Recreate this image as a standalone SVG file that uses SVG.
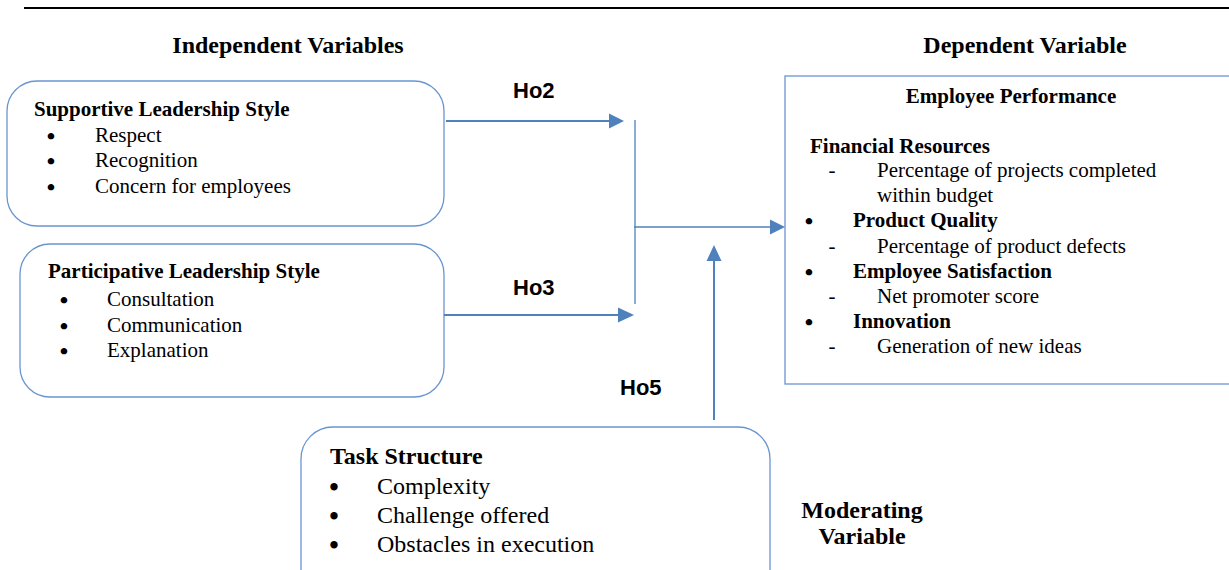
<svg xmlns="http://www.w3.org/2000/svg" width="1229" height="570" viewBox="0 0 1229 570">
<style>
.t{font-family:"Liberation Serif","Times New Roman",serif;fill:#000}
.b{font-weight:bold}
.s21{font-size:21px}
.s24{font-size:24px}
.bu{font-family:"Liberation Serif","Times New Roman",serif;font-size:24px;font-weight:bold;text-anchor:middle;fill:#000}
.bu2{font-family:"Liberation Serif","Times New Roman",serif;font-size:27px;font-weight:bold;text-anchor:middle;fill:#000}
.h{font-family:"Liberation Sans",Arial,sans-serif;font-weight:bold;font-size:22px;fill:#000}
.box{fill:#fff;stroke:#6a95cf;stroke-width:1.3}
.con{stroke:#4f81bd;stroke-width:2;fill:none}
.ah{fill:#4f81bd}
.m{text-anchor:middle}
</style>
<rect width="1229" height="570" fill="#fff"/>
<line x1="24" y1="8" x2="1229" y2="8" stroke="#000" stroke-width="2"/>
<text class="t b s24 m" x="288" y="53">Independent Variables</text>
<text class="t b s24 m" x="1025" y="53">Dependent Variable</text>

<g id="supportive">
<rect class="box" x="7" y="81" width="437" height="145" rx="30"/>
<text class="t b s21" x="34" y="116">Supportive Leadership Style</text>
<text class="bu" x="51" y="144">•</text><text class="t s21" x="95" y="142">Respect</text>
<text class="bu" x="51" y="169">•</text><text class="t s21" x="95" y="167">Recognition</text>
<text class="bu" x="51" y="195">•</text><text class="t s21" x="95" y="193">Concern for employees</text>
</g>

<g id="participative">
<rect class="box" x="20" y="244" width="424" height="153" rx="30"/>
<text class="t b s21" x="48" y="278">Participative Leadership Style</text>
<text class="bu" x="64" y="308">•</text><text class="t s21" x="107" y="306">Consultation</text>
<text class="bu" x="64" y="334">•</text><text class="t s21" x="107" y="332">Communication</text>
<text class="bu" x="64" y="359">•</text><text class="t s21" x="107" y="357">Explanation</text>
</g>

<g id="performance">
<rect x="785" y="76" width="460" height="308" fill="#fff" stroke="#6a95cf" stroke-width="1.3"/>
<text class="t b s21 m" x="1011" y="103">Employee Performance</text>
<text class="t b s21" x="810" y="153">Financial Resources</text>
<text class="t s21 m" x="832" y="177">-</text><text class="t s21" x="877" y="177">Percentage of projects completed</text>
<text class="t s21" x="877" y="202">within budget</text>
<text class="bu" x="809" y="229">•</text><text class="t b s21" x="853" y="227">Product Quality</text>
<text class="t s21 m" x="832" y="253">-</text><text class="t s21" x="877" y="253">Percentage of product defects</text>
<text class="bu" x="809" y="280">•</text><text class="t b s21" x="853" y="278">Employee Satisfaction</text>
<text class="t s21 m" x="832" y="303">-</text><text class="t s21" x="877" y="303">Net promoter score</text>
<text class="bu" x="809" y="330">•</text><text class="t b s21" x="853" y="328">Innovation</text>
<text class="t s21 m" x="832" y="353">-</text><text class="t s21" x="877" y="353">Generation of new ideas</text>
</g>

<g id="task">
<rect class="box" x="301" y="427" width="469" height="175" rx="32"/>
<text class="t b s24" x="330" y="464">Task Structure</text>
<text class="bu2" x="334" y="496">•</text><text class="t s24" x="377" y="494">Complexity</text>
<text class="bu2" x="334" y="525">•</text><text class="t s24" x="377" y="523">Challenge offered</text>
<text class="bu2" x="334" y="554">•</text><text class="t s24" x="377" y="552">Obstacles in execution</text>
</g>

<g id="moderating-label">
<text class="t b s24 m" x="862" y="518">Moderating</text>
<text class="t b s24 m" x="862" y="544">Variable</text>
</g>

<g id="connectors">
<line class="con" x1="446" y1="121" x2="610" y2="121"/>
<polygon class="ah" points="624,121 609,113.5 609,128.5"/>
<line class="con" x1="444" y1="315" x2="619" y2="315"/>
<polygon class="ah" points="634,315 618,307.5 618,322.5"/>
<line stroke="#4f81bd" stroke-width="1.3" x1="635" y1="120" x2="635" y2="304"/>
<line stroke="#4f81bd" stroke-width="1.3" x1="634" y1="227" x2="771" y2="227"/>
<polygon class="ah" points="785,227 770,219.5 770,234.5"/>
<line class="con" x1="714" y1="420" x2="714" y2="260"/>
<polygon class="ah" points="714,245 706.5,261 721.5,261"/>
<text class="h" x="513" y="98">Ho2</text>
<text class="h" x="513" y="295">Ho3</text>
<text class="h" x="620" y="395">Ho5</text>
</g>
</svg>
